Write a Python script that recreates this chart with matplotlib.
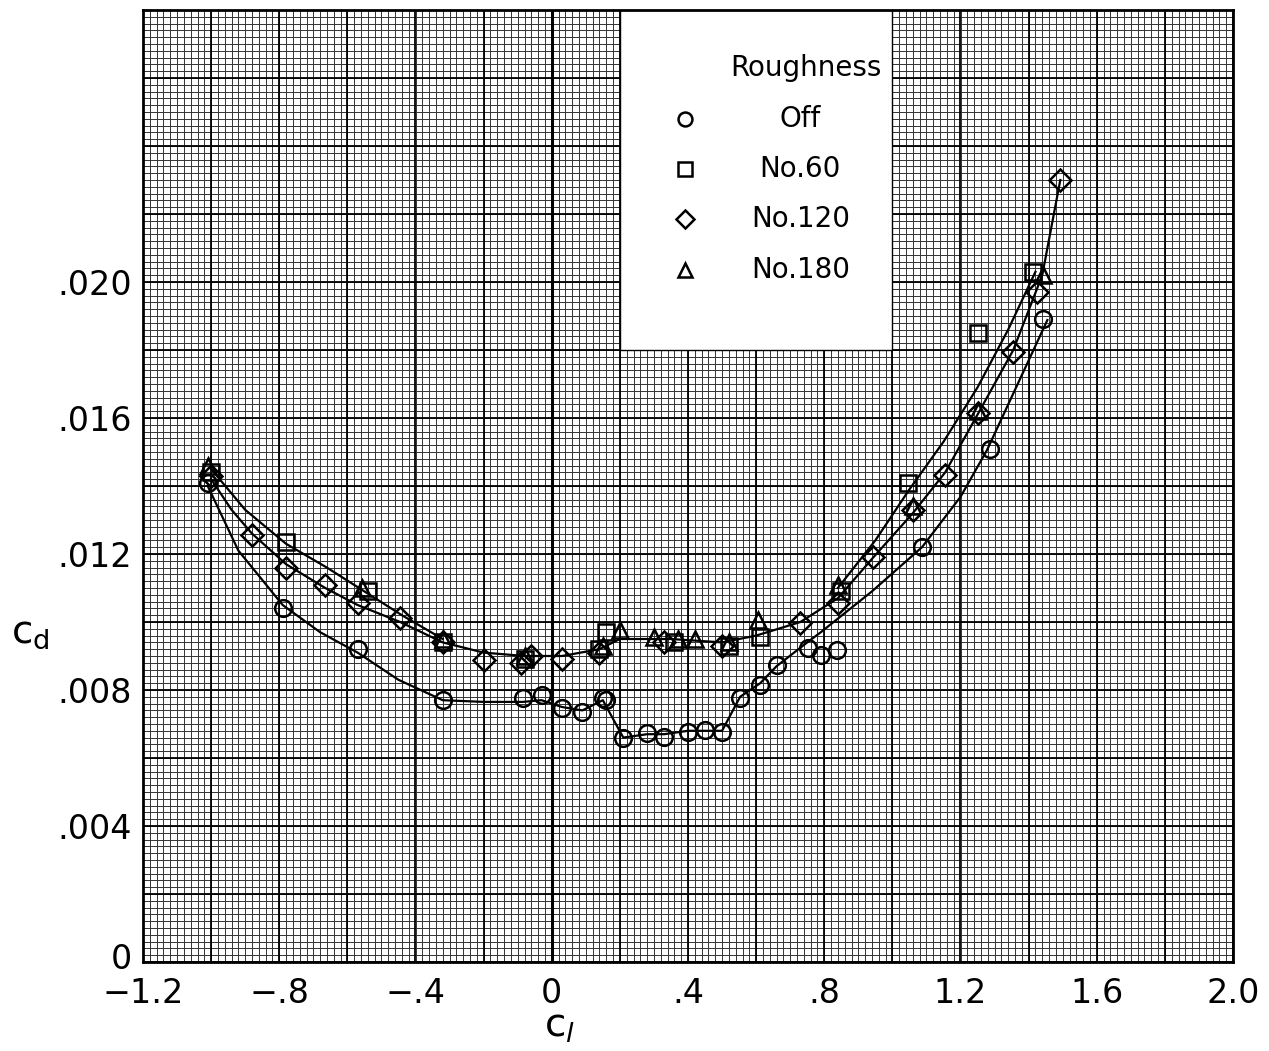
import matplotlib.pyplot as plt
import matplotlib.transforms as mtransforms
import numpy as np
from matplotlib.patches import Rectangle

# section drag polar, roughness off / on
off_cl = [-1.01, -0.79, -0.57, -0.32, -0.085, -0.03, 0.03, 0.09, 0.15, 0.16, 0.21, 0.28, 0.33,
          0.40, 0.45, 0.50, 0.553, 0.612, 0.66, 0.753, 0.79, 0.837, 1.087, 1.287, 1.443]
off_cd = [0.0141, 0.0104, 0.0092, 0.0077, 0.00776, 0.00785, 0.00747, 0.00735, 0.00776, 0.0077,
          0.00658, 0.00673, 0.00663, 0.00676, 0.00682, 0.00677, 0.00776, 0.00815, 0.00874,
          0.00924, 0.00903, 0.00918, 0.0122, 0.0151, 0.0189]

n60_cl = [-1.0, -0.78, -0.54, -0.32, -0.08, 0.14, 0.16, 0.36, 0.52, 0.61, 0.85, 1.046, 1.252, 1.414]
n60_cd = [0.0144, 0.01235, 0.0109, 0.0094, 0.0089, 0.0092, 0.0097, 0.0094, 0.0093, 0.00955,
          0.0109, 0.0141, 0.0185, 0.0203]

n120_cl = [-1.0, -0.88, -0.78, -0.665, -0.57, -0.445, -0.32, -0.20, -0.09, -0.06, 0.03, 0.14,
           0.33, 0.50, 0.73, 0.84, 0.944, 1.06, 1.155, 1.25, 1.355, 1.425, 1.493]
n120_cd = [0.0143, 0.01256, 0.0116, 0.0111, 0.01056, 0.01012, 0.0094, 0.00888, 0.0088, 0.0090,
           0.0089, 0.0091, 0.0094, 0.0093, 0.00997, 0.01056, 0.0119, 0.0133, 0.01432, 0.01615,
           0.01794, 0.0197, 0.0230]

n180_cl = [-1.01, -0.557, -0.32, -0.08, 0.15, 0.2, 0.30, 0.37, 0.42, 0.52, 0.605, 0.84, 1.06, 1.25, 1.443]
n180_cd = [0.0146, 0.0110, 0.0095, 0.0090, 0.0093, 0.00976, 0.00956, 0.0095, 0.0095, 0.0094,
           0.01006, 0.0111, 0.0134, 0.0162, 0.0202]

# faired curves
off_fair_cl = [-1.01, -0.92, -0.79, -0.68, -0.57, -0.45, -0.32, -0.2, -0.085, -0.03, 0.03, 0.09,
               0.15, 0.21, 0.28, 0.33, 0.40, 0.45, 0.50, 0.553, 0.612, 0.66, 0.75, 0.79, 0.94,
               1.087, 1.2, 1.278, 1.405, 1.455]
off_fair_cd = [0.0140, 0.0121, 0.0105, 0.0097, 0.0091, 0.0083, 0.0077, 0.00765, 0.00765, 0.0077,
               0.0075, 0.0074, 0.0077, 0.0066, 0.0067, 0.0067, 0.0068, 0.0068, 0.0068, 0.0078,
               0.0082, 0.0087, 0.0094, 0.0097, 0.0109, 0.0122, 0.01368, 0.01506, 0.0178, 0.01888]

mid_fair_cl = [-1.0, -0.94, -0.88, -0.78, -0.665, -0.57, -0.445, -0.32, -0.2, -0.08, 0.03, 0.14,
               0.2, 0.35, 0.5, 0.6, 0.73, 0.84, 0.944, 1.06, 1.155, 1.25, 1.355, 1.44, 1.493]
mid_fair_cd = [0.0142, 0.0133, 0.0126, 0.0117, 0.0110, 0.0105, 0.0100, 0.0094, 0.0091, 0.0090,
               0.0090, 0.0092, 0.0095, 0.0095, 0.0094, 0.0096, 0.0100, 0.0107, 0.0119, 0.0132,
               0.0144, 0.0161, 0.0180, 0.0202, 0.0230]

up_left_cl = [-1.0, -0.9, -0.78, -0.66, -0.55, -0.44, -0.32]
up_left_cd = [0.0145, 0.0133, 0.0123, 0.0116, 0.0109, 0.0102, 0.0095]
up_right_cl = [0.84, 0.95, 1.05, 1.15, 1.25, 1.34, 1.42]
up_right_cd = [0.0110, 0.0124, 0.0139, 0.0153, 0.0169, 0.0186, 0.0203]

xticks = [-1.2, -0.8, -0.4, 0, 0.4, 0.8, 1.2, 1.6, 2.0]
xlabels = ['\u22121.2', '\u2212.8', '\u2212.4', '0', '.4', '.8', '1.2', '1.6', '2.0']
yticks = [0, 0.004, 0.008, 0.012, 0.016, 0.020]
ylabels = ['0', '.004', '.008', '.012', '.016', '.020']

legend_names = ['Off', 'No.60', 'No.120', 'No.180']
legend_marks = ['o', 's', 'D', '^']

fig = plt.figure(figsize=(12.69, 10.51), dpi=100)
ax = fig.add_axes([143/1269, 89/1051, 1090/1269, 952/1051])
ax.set_xlim(-1.2, 2.0)
ax.set_ylim(0, 0.028)

# graph paper
xs = np.arange(-1.2, 2.0001, 0.02)
ys = np.arange(0, 0.02801, 0.0002)
ax.vlines(xs, 0, 0.028, color='#333333', lw=0.7, zorder=0)
ax.hlines(ys, -1.2, 2.0, color='#333333', lw=0.7, zorder=0)
ax.vlines(np.arange(-1.2, 2.0001, 0.2), 0, 0.028, color='black', lw=1.3, zorder=0)
ax.hlines(np.arange(0, 0.02801, 0.002), -1.2, 2.0, color='black', lw=1.3, zorder=0)
ax.axvline(0, color='black', lw=2.2, zorder=0)

# legend panel
ax.add_patch(Rectangle((0.2, 0.018), 0.8, 0.0101, facecolor='white', edgecolor='black',
                       lw=1, zorder=1))
ax.text(0.745, 0.0263, 'Roughness', fontsize=20, ha='center', va='center', zorder=4)
for i, (nm, mk) in enumerate(zip(legend_names, legend_marks)):
    yy = 0.0248 - i*0.00148
    ax.plot(0.39, yy, marker=mk, ms=10 if mk != 'D' else 9, mfc='none', mec='black', mew=1.8,
            zorder=4)
    ax.text(0.73, yy, nm, fontsize=20, ha='center', va='center', zorder=4)

# faired curves
kw = dict(color='black', lw=1.6, zorder=2)
ax.plot(off_fair_cl, off_fair_cd, **kw)
ax.plot(mid_fair_cl, mid_fair_cd, **kw)
ax.plot(up_left_cl, up_left_cd, **kw)
ax.plot(up_right_cl, up_right_cd, **kw)

mk = dict(ls='none', mfc='none', mec='black', mew=1.8, zorder=3)
ax.plot(off_cl, off_cd, marker='o', ms=12, **mk)
ax.plot(n60_cl, n60_cd, marker='s', ms=12, **mk)
ax.plot(n120_cl, n120_cd, marker='D', ms=11, **mk)
ax.plot(n180_cl, n180_cd, marker='^', ms=12, **mk)

ax.set_xticks(xticks)
ax.set_xticklabels(xlabels)
ax.set_yticks(yticks)
ax.set_yticklabels(ylabels)
ax.tick_params(length=0, labelsize=24)
ax.tick_params(axis='x', pad=11)
ax.tick_params(axis='y', pad=8)
for s in ax.spines.values():
    s.set_linewidth(2)

# nudge the y "0" up a little so it clears the -1.2 below it
zero_lab = ax.get_yticklabels()[0]
zero_lab.set_transform(zero_lab.get_transform() +
                       mtransforms.ScaledTranslation(0, 4/72, fig.dpi_scale_trans))

fig.text(30/1269, 1 - 632/1051, r'$\mathregular{c_d}$', fontsize=28, ha='center', va='center')
fig.text(560/1269, 1 - 1026/1051, r'$\mathregular{c}_{\mathit{l}}$', fontsize=28,
         ha='center', va='center')

fig.savefig('out.png', dpi=100)
